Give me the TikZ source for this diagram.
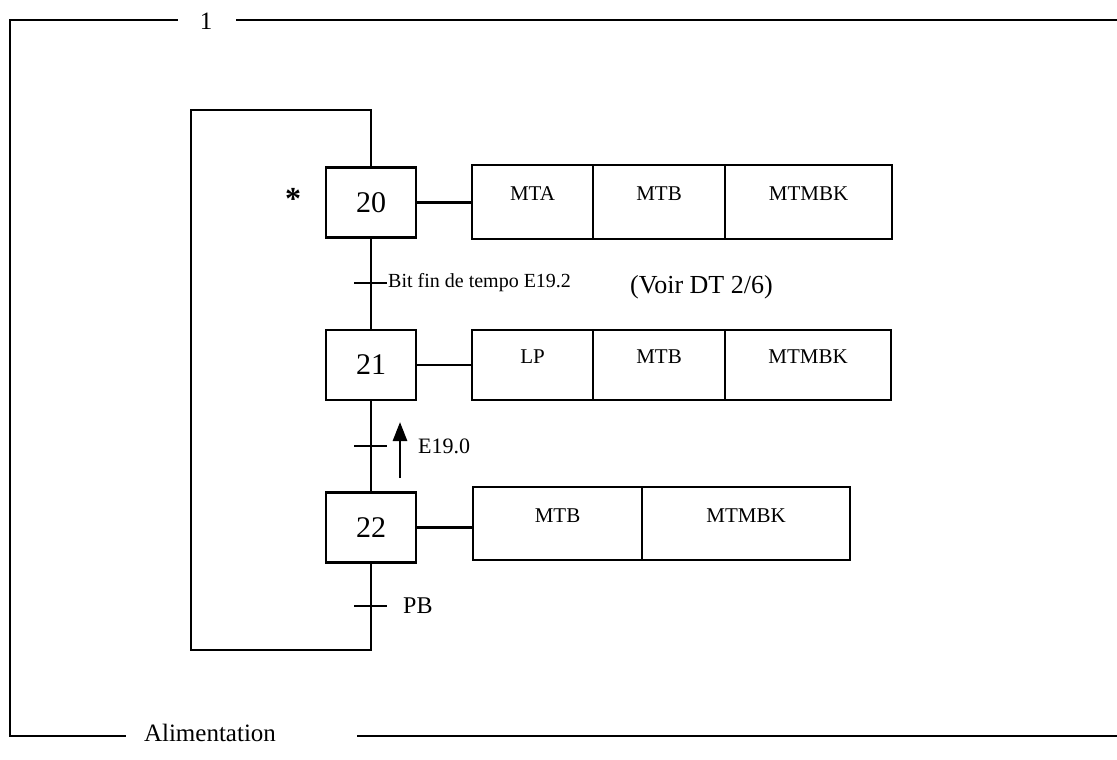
\documentclass[tikz,border=0pt]{standalone}
\usepackage{fontspec}
\setmainfont{Liberation Serif}
\usetikzlibrary{arrows.meta}
\tikzset{
  ln/.style={line width=2.2pt, line cap=rect},
  stepbox/.style={draw, line width=2.2pt, minimum width=90pt, minimum height=70pt, inner sep=0pt, font=\fontsize{30}{30}\selectfont},
  actbox/.style={draw, line width=2.2pt, inner sep=0pt, text height=0pt, text depth=3pt, font=\fontsize{21}{21}\selectfont},
  lab/.style={inner sep=0pt, anchor=west},
}
\begin{document}
\begin{tikzpicture}[x=1pt,y=-1pt]
\useasboundingbox (0,0) rectangle (1117,760);
% outer frame
\node[inner sep=0pt, font=\fontsize{25}{25}\selectfont] (one) at (206,21) {1};
\node[inner sep=0pt, font=\fontsize{25}{25}\selectfont] (alim) at (210,733) {Alimentation};
\coordinate (ftl) at (10,20);
\coordinate (fbl) at (10,736);
\draw[ln] ([xshift=-29pt]one.center |- ftl) -- (ftl) -- (fbl) -- ([xshift=-85pt]alim.center |- fbl);
\draw[ln] ([xshift=31pt]one.center |- ftl) -- (1117,20);
\draw[ln] ([xshift=148pt]alim.center |- fbl) -- (1117,736);
% steps
\node[stepbox] (s20) at (371,202.5) {20};
\node[stepbox] (s21) at (371,365) {21};
\node[stepbox] (s22) at (371,527.5) {22};
\node[inner sep=0pt, font=\fontsize{32}{32}\selectfont\bfseries] (star) at (293,199) {*};
% links
\coordinate (lt) at (191,110);
\coordinate (lb) at (191,650);
\draw[ln] (s20.south) -- (s21.north);
\draw[ln] (s21.south) -- (s22.north);
\draw[ln] (s22.south) |- (lb) -- (lt) -| (s20.north);
% transitions
\coordinate (t1) at (371,283);
\coordinate (t2) at (371,446);
\coordinate (t3) at (371,606);
\draw[ln] ([xshift=-16pt]t1) -- ([xshift=15pt]t1);
\draw[ln] ([xshift=-16pt]t2) -- ([xshift=15pt]t2);
\draw[ln] ([xshift=-16pt]t3) -- ([xshift=15pt]t3);
\node[lab, font=\fontsize{20}{20}\selectfont] (c1) at (388,283) {Bit fin de tempo E19.2};
\node[lab, font=\fontsize{26}{26}\selectfont] (voir) at (630,287) {(Voir DT 2/6)};
\coordinate (ab) at (400,478);
\coordinate (at) at (400,422);
\draw[line width=2.8pt, -{Triangle[width=14pt,length=19pt]}] (ab) -- (at);
\node[lab, font=\fontsize{22}{22}\selectfont] (c2) at (418,446) {E19.0};
\node[lab, font=\fontsize{24}{24}\selectfont] (c3) at (403,606) {PB};
% actions step 20
\node[actbox, minimum width=121pt, minimum height=74pt] (a20a) at (532.5,202) {MTA};
\node[actbox, minimum width=132pt, minimum height=74pt] (a20b) at (659,202) {MTB};
\node[actbox, minimum width=167pt, minimum height=74pt] (a20c) at (808.5,202) {MTMBK};
% actions step 21
\node[actbox, minimum width=121pt, minimum height=70pt] (a21a) at (532.5,365) {LP};
\node[actbox, minimum width=132pt, minimum height=70pt] (a21b) at (659,365) {MTB};
\node[actbox, minimum width=166pt, minimum height=70pt] (a21c) at (808,365) {MTMBK};
% actions step 22
\node[actbox, minimum width=169pt, minimum height=73pt] (a22a) at (557.5,523.5) {MTB};
\node[actbox, minimum width=208pt, minimum height=73pt] (a22b) at (746,523.5) {MTMBK};
% step-action links
\draw[ln] (s20.east) -- (s20.east -| a20a.west);
\draw[ln] (s21.east) -- (s21.east -| a21a.west);
\draw[ln] (s22.east) -- (s22.east -| a22a.west);
\end{tikzpicture}
\end{document}
